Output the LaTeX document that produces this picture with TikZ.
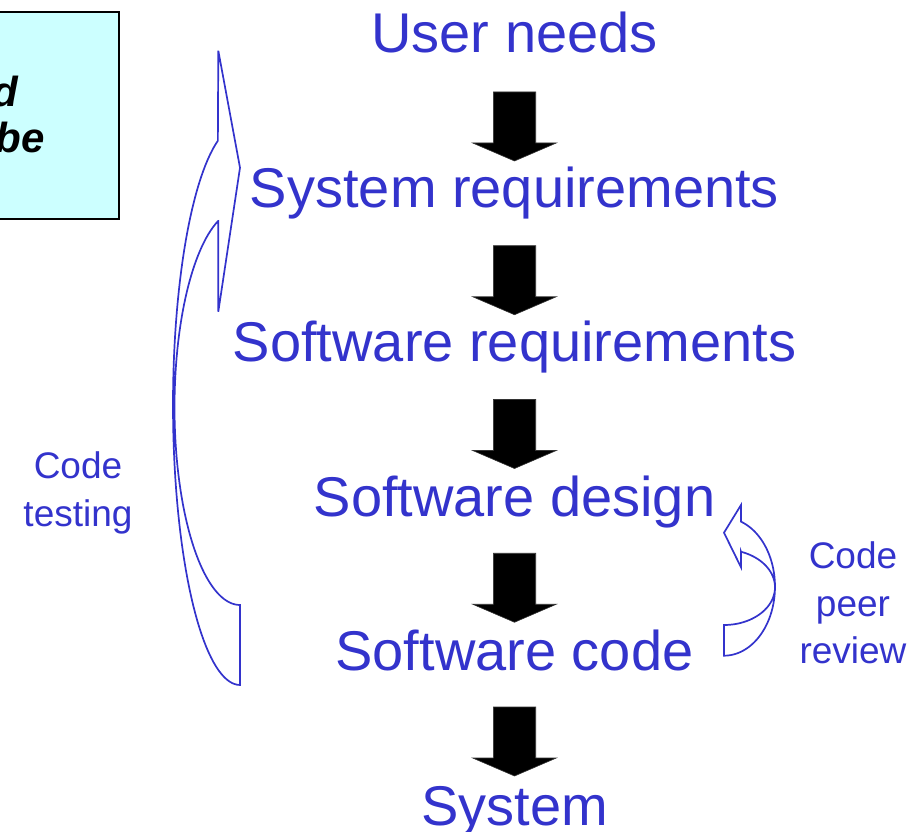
\documentclass[tikz,border=0pt]{standalone}
\usepackage{fontspec}
\setmainfont{Liberation Sans}
\definecolor{txtblue}{RGB}{51,51,204}
\definecolor{boxcyan}{RGB}{204,255,255}
\begin{document}
\begin{tikzpicture}[x=1pt,y=-1pt,
  stage/.style={font=\fontsize{56}{60}\selectfont, text=txtblue, anchor=base, inner sep=0pt},
  side/.style={font=\fontsize{37}{44}\selectfont, text=txtblue, anchor=base, inner sep=0pt},
  boxtxt/.style={font=\fontsize{42}{46}\selectfont\bfseries\itshape, text=black, anchor=base east, inner sep=0pt},
  bendarrow/.style={draw=txtblue, line width=1.7pt, line join=miter},
  blockarr/.pic={\fill[black, draw=black!80, line width=0.6pt] (-21.2,0) -- (21.2,0) -- (21.2,51) -- (41.8,51) -- (0,69) -- (-41.8,51) -- (-21.2,51) -- cycle;}]
\useasboundingbox (0,0) rectangle (922,832);

% cyan note box (cut off at the left edge)
\draw[fill=boxcyan, draw=black, line width=1.4pt] (-10,12) rectangle (119,219);
\node[boxtxt] (bx1) at (18.3,106.7) {d};
\node[boxtxt] (bx2) at (45,152.7) {be};

% stages
\node[stage] (s1) at (514.5,52.5) {User needs};
\node[stage] (s2) at (514.5,207.1) {System requirements};
\node[stage] (s3) at (514.5,361.7) {Software requirements};
\node[stage] (s4) at (514.5,516.3) {Software design};
\node[stage] (s5) at (514.5,670.9) {Software code};
\node[stage] (s6) at (514.5,825.5) {System};

% block arrows between stages
\path (s1.base) ++(0,39.5) pic {blockarr};
\path (s2.base) ++(0,38.65) pic {blockarr};
\path (s3.base) ++(0,37.8) pic {blockarr};
\path (s4.base) ++(0,36.95) pic {blockarr};
\path (s5.base) ++(0,36.1) pic {blockarr};

% code testing curved arrow
\draw[bendarrow] (240,605) -- (240,685)
  -- plot[domain=90:250.7,samples=70] ({240+67*cos(\x)},{405+280*sin(\x)})
  -- (218.3,50.7) -- (240,167.7) -- (218.3,311.7) -- (218.3,221)
  -- plot[domain=250.4:90,samples=70] ({240+65.5*cos(\x)},{407.3+197.7*sin(\x)})
  -- cycle;
\node[side] (ct1) at (78,478.3) {Code};
\node[side] (ct2) at (78,526) {testing};

% code peer review curved arrow
\draw[bendarrow] (724,625) -- (724,655.7)
  -- plot[domain=90:-70.5,samples=50] ({724+51*cos(\x)},{586.7+69*sin(\x)})
  -- (741,505) -- (724,532.7) -- (741,567.3) -- (741,551.7)
  -- plot[domain=-70.5:90,samples=50] ({724+51*cos(\x)},{587.3+37.7*sin(\x)})
  -- cycle;
\node[side] (pr1) at (853,568.3) {Code};
\node[side] (pr2) at (853,616) {peer};
\node[side] (pr3) at (853,663.7) {review};
\end{tikzpicture}
\end{document}
